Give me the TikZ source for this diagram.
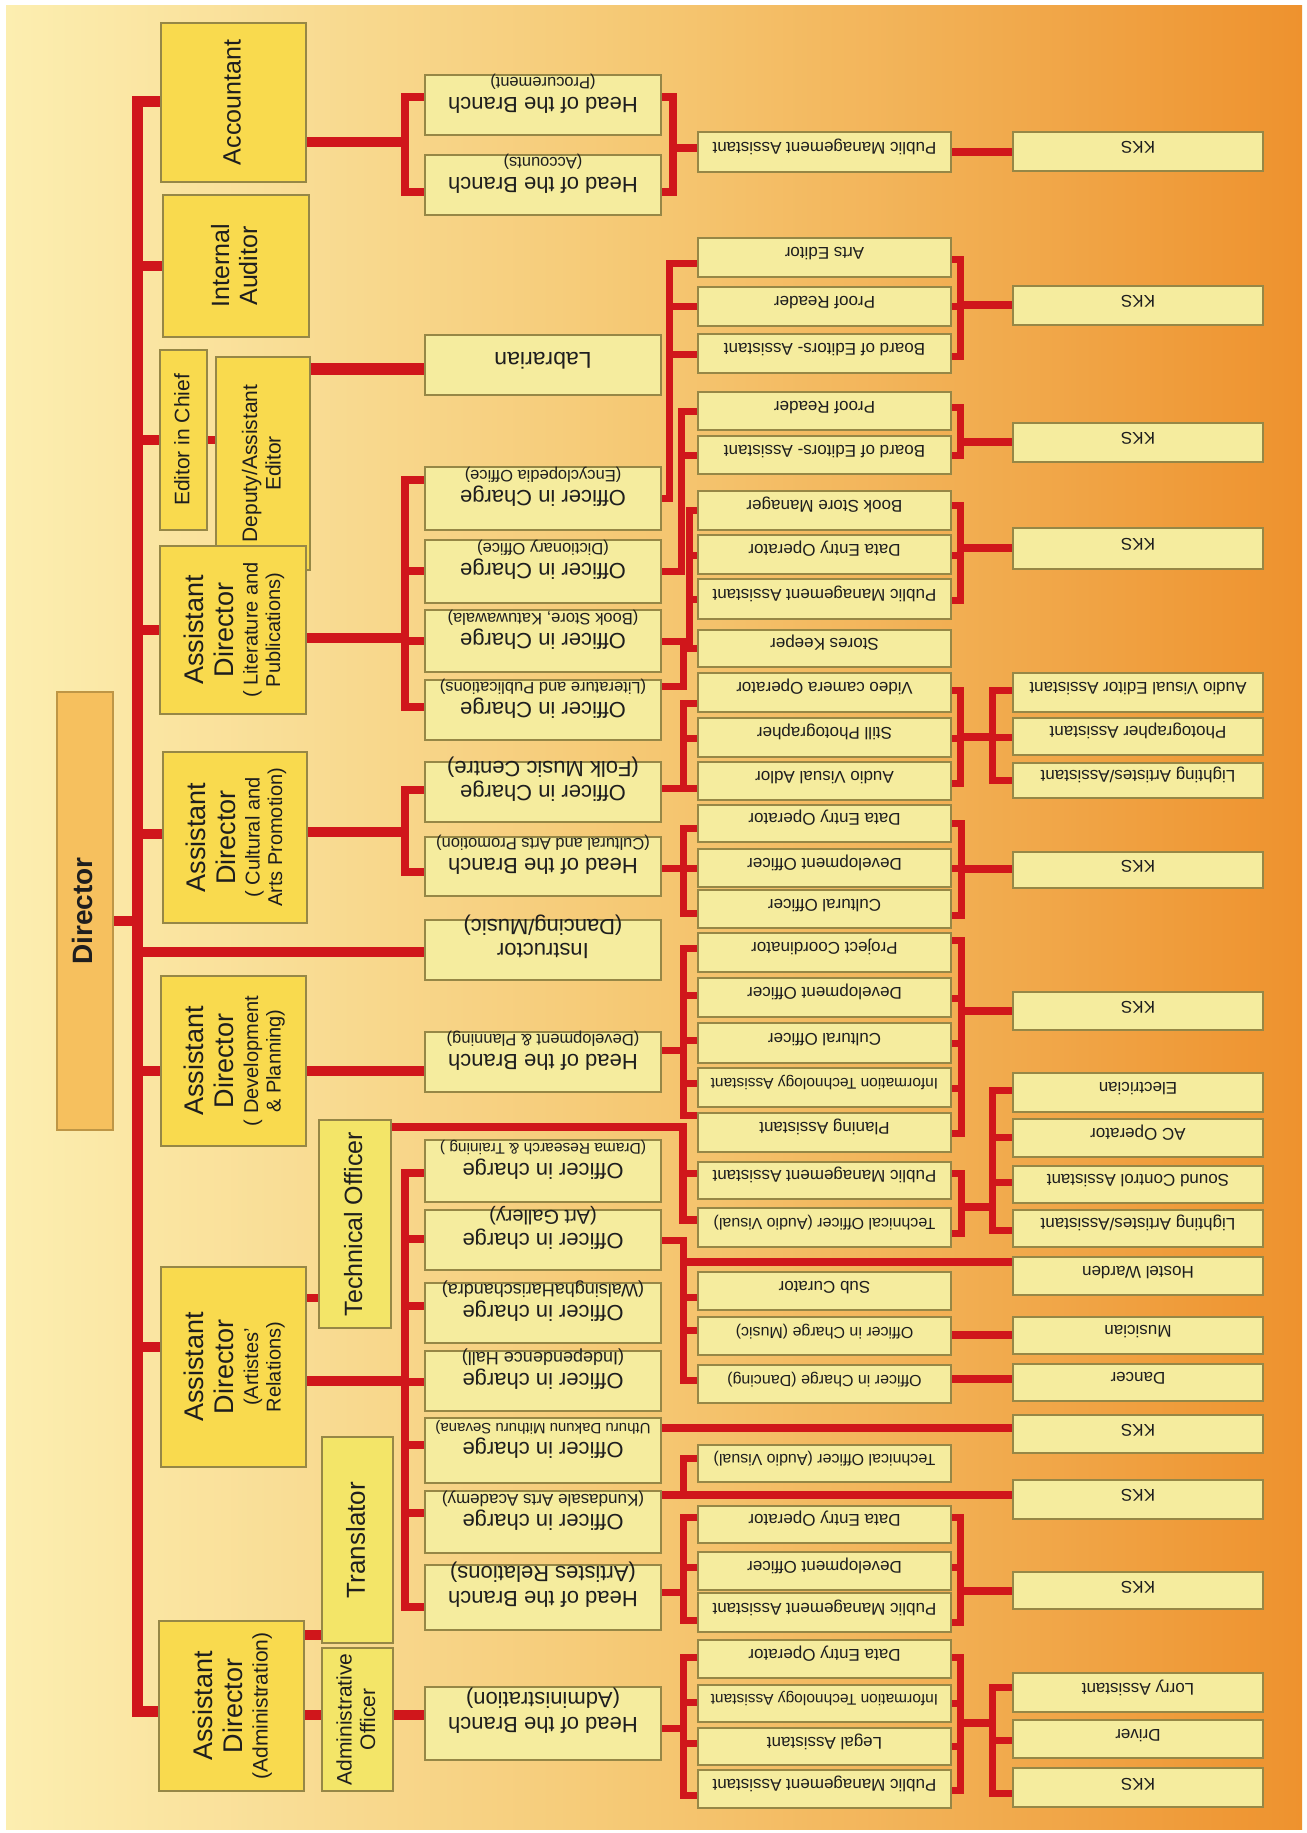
\documentclass[tikz,border=0pt]{standalone}
\usepackage{fontspec}
\setmainfont{Liberation Sans}
\usepackage{graphicx}
\usetikzlibrary{fit}
\definecolor{goldc}{RGB}{249,218,78}
\definecolor{lemonc}{RGB}{243,229,104}
\definecolor{palec}{RGB}{245,236,158}
\definecolor{dirc}{RGB}{246,192,94}
\definecolor{dirbord}{RGB}{190,150,70}
\definecolor{bordc}{RGB}{150,135,70}
\definecolor{redl}{RGB}{208,22,27}
\definecolor{bgL}{RGB}{252,238,176}
\definecolor{bgM}{RGB}{245,199,114}
\definecolor{bgR}{RGB}{238,146,46}
\definecolor{txtc}{RGB}{30,30,30}
\renewcommand\arraystretch{0}
\newcommand\tline[2]{{\fontsize{#1pt}{#1pt}\selectfont\rule[-.28em]{0pt}{1.12em}#2}}
\newcommand\symbox[1]{\raisebox{\dimexpr(\depth-\height)/2\relax}{#1}}
\newcommand\txtdn[1]{\symbox{\rotatebox[origin=c]{180}{\begin{tabular}{@{}c@{}}#1\end{tabular}}}}
\newcommand\boxnode[5]{\node[#1,fit={(#3) (#4)}] (#2) {#5};}
\newcommand\upnode[5]{\node[#1,fit={(#3) (#4)}] (#2) {};
  \node[rotate=90,inner sep=0pt,text=txtc] (#2-t) at (#2.center) {\begin{tabular}{@{}c@{}}#5\end{tabular}};}
\pgfdeclarelayer{bgl}
\pgfdeclarelayer{conn}
\pgfsetlayers{bgl,conn,main}
\tikzset{
  mainbox/.style={draw=bordc,fill=goldc,line width=1.2pt,inner sep=0pt,text=txtc},
  secbox/.style={mainbox,fill=lemonc},
  palebox/.style={mainbox,fill=palec},
  dirbox/.style={mainbox,fill=dirc,draw=dirbord},
  trunk/.style={draw=redl,line width=11pt},
  lvA/.style={draw=redl,line width=10pt},
  lvB/.style={draw=redl,line width=8pt},
  lvC/.style={draw=redl,line width=7pt}
}
\begin{document}
\begin{tikzpicture}[x=1pt,y=-1pt]
\useasboundingbox (0,0) rectangle (1306,1833);
\begin{pgfonlayer}{bgl}
\fill[white] (0,0) rectangle (1306,1833);
\shade[left color=bgL,right color=bgR,middle color=bgM] (6,6) rectangle (1302,1829);
\end{pgfonlayer}

% ---------- level 0/1 ----------
\upnode{dirbox}{director}{57,692}{113,1130}{\tline{28}{\bfseries Director}}
\upnode{mainbox}{acct}{161,23}{306,182}{\tline{25}{Accountant}}
\upnode{mainbox}{audit}{163,195}{309,337}{\tline{25}{Internal}\\\tline{25}{Auditor}}
\upnode{mainbox}{eic}{160,350}{207,530}{\tline{21}{Editor in Chief}}
\upnode{mainbox}{dep}{216,357}{310,570}{\tline{21}{Deputy/Assistant}\\\tline{21}{Editor}}
\upnode{mainbox}{adlit}{160,546}{306,714}{\tline{27}{Assistant}\\\tline{27}{Director}\\\tline{20}{( Literature and}\\\tline{20}{Publications)}}
\upnode{mainbox}{adcul}{163,752}{307,923}{\tline{27}{Assistant}\\\tline{27}{Director}\\\tline{20}{( Cultural and}\\\tline{20}{Arts Promotion)}}
\upnode{mainbox}{addev}{161,976}{306,1146}{\tline{27}{Assistant}\\\tline{27}{Director}\\\tline{20}{( Development}\\\tline{20}{\& Planning)}}
\upnode{mainbox}{adart}{161,1267}{306,1467}{\tline{27}{Assistant}\\\tline{27}{Director}\\\tline{20}{(Artistes'}\\\tline{20}{Relations)}}
\upnode{mainbox}{adadm}{159,1621}{304,1791}{\tline{27}{Assistant}\\\tline{27}{Director}\\\tline{21}{(Administration)}}
\upnode{secbox}{techo}{319,1120}{391,1328}{\tline{25}{Technical Officer}}
\upnode{secbox}{transl}{322,1437}{393,1643}{\tline{26}{Translator}}
\upnode{secbox}{admoff}{322,1648}{393,1791}{\tline{21}{Administrative}\\\tline{21}{Officer}}

% ---------- column 2 ----------
\boxnode{palebox}{hobproc}{425,75}{661,135}{\txtdn{\tline{22}{Head of the Branch}\\\tline{16.5}{(Procurement)}}}
\boxnode{palebox}{hobacc}{425,155}{661,215}{\txtdn{\tline{22}{Head of the Branch}\\\tline{16.5}{(Accounts)}}}
\boxnode{palebox}{labr}{425,335}{661,395}{\txtdn{\tline{23}{Labrarian}}}
\boxnode{palebox}{oicenc}{425,467}{661,530}{\txtdn{\tline{22}{Officer in Charge}\\\tline{16.5}{(Encyclopedia Office)}}}
\boxnode{palebox}{oicdic}{425,540}{661,603}{\txtdn{\tline{22}{Officer in Charge}\\\tline{16.5}{(Dictionary Office)}}}
\boxnode{palebox}{oicbook}{425,610}{661,672}{\txtdn{\tline{22}{Officer in Charge}\\\tline{16.5}{(Book Store, Katuwawala)}}}
\boxnode{palebox}{oiclit}{425,680}{661,740}{\txtdn{\tline{22}{Officer in Charge}\\\tline{16.5}{(Literature and Publications)}}}
\boxnode{palebox}{oicfolk}{425,762}{661,822}{\txtdn{\tline{22}{Officer in Charge}\\\tline{22}{(Folk Music Centre)}}}
\boxnode{palebox}{hobcul}{425,837}{661,896}{\txtdn{\tline{22}{Head of the Branch}\\\tline{16.5}{(Cultural and Arts Promotion)}}}
\boxnode{palebox}{instr}{425,920}{661,980}{\txtdn{\tline{22}{Instructor}\\\tline{22}{(Dancing/Music)}}}
\boxnode{palebox}{hobdev}{425,1032}{661,1092}{\txtdn{\tline{22}{Head of the Branch}\\\tline{16.5}{(Development \& Planning)}}}
\boxnode{palebox}{oicdrama}{425,1140}{661,1202}{\txtdn{\tline{22}{Officer in charge}\\\tline{15.5}{(Drama Research \& Training )}}}
\boxnode{palebox}{oicart}{425,1210}{661,1270}{\txtdn{\tline{22}{Officer in charge}\\\tline{20}{(Art Gallery)}}}
\boxnode{palebox}{oicwal}{425,1283}{661,1343}{\txtdn{\tline{22}{Officer in charge}\\\tline{18}{(WalsinghaHarischandra)}}}
\boxnode{palebox}{oicind}{425,1351}{661,1411}{\txtdn{\tline{22}{Officer in charge}\\\tline{18}{(Independence Hall)}}}
\boxnode{palebox}{oicuth}{425,1418}{661,1483}{\txtdn{\tline{22}{Officer in charge}\\\tline{15}{Uthuru Dakunu Mithuru Sevana)}}}
\boxnode{palebox}{oickun}{425,1491}{661,1553}{\txtdn{\tline{22}{Officer in charge}\\\tline{17}{(Kundasale Arts Academy)}}}
\boxnode{palebox}{hobart}{425,1565}{661,1630}{\txtdn{\tline{22}{Head of the Branch}\\\tline{22}{(Artistes Relations)}}}
\boxnode{palebox}{hobadm}{425,1687}{661,1760}{\txtdn{\tline{22}{Head of the Branch}\\\tline{22}{(Administration)}}}

% ---------- column 3 ----------
\boxnode{palebox}{pmaA}{698,132}{951,172}{\txtdn{\tline{17}{Public Management Assistant}}}
\boxnode{palebox}{artsed}{698,238}{951,277}{\txtdn{\tline{17}{Arts Editor}}}
\boxnode{palebox}{proofA}{698,287}{951,326}{\txtdn{\tline{17}{Proof Reader}}}
\boxnode{palebox}{boeA}{698,334}{951,373}{\txtdn{\tline{17}{Board of Editors- Assistant}}}
\boxnode{palebox}{proofB}{698,392}{951,430}{\txtdn{\tline{17}{Proof Reader}}}
\boxnode{palebox}{boeB}{698,436}{951,474}{\txtdn{\tline{17}{Board of Editors- Assistant}}}
\boxnode{palebox}{bsm}{698,491}{951,530}{\txtdn{\tline{17}{Book Store Manager}}}
\boxnode{palebox}{deoA}{698,535}{951,574}{\txtdn{\tline{17}{Data Entry Operator}}}
\boxnode{palebox}{pmaB}{698,579}{951,619}{\txtdn{\tline{17}{Public Management Assistant}}}
\boxnode{palebox}{stores}{698,630}{951,667}{\txtdn{\tline{17}{Stores Keeper}}}
\boxnode{palebox}{video}{698,673}{951,712}{\txtdn{\tline{17}{Video camera Operator}}}
\boxnode{palebox}{still}{698,718}{951,757}{\txtdn{\tline{17}{Still Photographer}}}
\boxnode{palebox}{avadlor}{698,762}{951,800}{\txtdn{\tline{17}{Audio Visual Adlor}}}
\boxnode{palebox}{deoB}{698,805}{951,842}{\txtdn{\tline{17}{Data Entry Operator}}}
\boxnode{palebox}{devoA}{698,849}{951,887}{\txtdn{\tline{17}{Development Officer}}}
\boxnode{palebox}{culoA}{698,890}{951,928}{\txtdn{\tline{17}{Cultural Officer}}}
\boxnode{palebox}{projc}{698,933}{951,972}{\txtdn{\tline{17}{Project Coordinator}}}
\boxnode{palebox}{devoB}{698,978}{951,1017}{\txtdn{\tline{17}{Development Officer}}}
\boxnode{palebox}{culoB}{698,1023}{951,1063}{\txtdn{\tline{17}{Cultural Officer}}}
\boxnode{palebox}{itaA}{698,1068}{951,1107}{\txtdn{\tline{15.5}{Information Technology Assistant}}}
\boxnode{palebox}{plan}{698,1113}{951,1152}{\txtdn{\tline{17}{Planing Assistant}}}
\boxnode{palebox}{pmaC}{698,1162}{951,1199}{\txtdn{\tline{17}{Public Management Assistant}}}
\boxnode{palebox}{toavA}{698,1208}{951,1247}{\txtdn{\tline{16}{Technical Officer (Audio Visual)}}}
\boxnode{palebox}{subc}{698,1272}{951,1310}{\txtdn{\tline{17}{Sub Curator}}}
\boxnode{palebox}{oicmus}{698,1317}{951,1355}{\txtdn{\tline{16}{Officer in Charge (Music)}}}
\boxnode{palebox}{oicdan}{698,1365}{951,1403}{\txtdn{\tline{16}{Officer in Charge (Dancing)}}}
\boxnode{palebox}{toavB}{698,1445}{951,1482}{\txtdn{\tline{16}{Technical Officer (Audio Visual)}}}
\boxnode{palebox}{deoC}{698,1506}{951,1543}{\txtdn{\tline{17}{Data Entry Operator}}}
\boxnode{palebox}{devoC}{698,1552}{951,1590}{\txtdn{\tline{17}{Development Officer}}}
\boxnode{palebox}{pmaD}{698,1593}{951,1632}{\txtdn{\tline{17}{Public Management Assistant}}}
\boxnode{palebox}{deoD}{698,1640}{951,1678}{\txtdn{\tline{17}{Data Entry Operator}}}
\boxnode{palebox}{itaB}{698,1685}{951,1722}{\txtdn{\tline{15.5}{Information Technology Assistant}}}
\boxnode{palebox}{legal}{698,1728}{951,1765}{\txtdn{\tline{17}{Legal Assistant}}}
\boxnode{palebox}{pmaE}{698,1770}{951,1808}{\txtdn{\tline{17}{Public Management Assistant}}}

% ---------- column 4 ----------
\boxnode{palebox}{kksA}{1013,132}{1263,171}{\txtdn{\tline{17}{KKS}}}
\boxnode{palebox}{kksB}{1013,286}{1263,325}{\txtdn{\tline{17}{KKS}}}
\boxnode{palebox}{kksC}{1013,423}{1263,462}{\txtdn{\tline{17}{KKS}}}
\boxnode{palebox}{kksD}{1013,528}{1263,569}{\txtdn{\tline{17}{KKS}}}
\boxnode{palebox}{aveda}{1013,673}{1263,712}{\txtdn{\tline{17}{Audio Visual Editor Assistant}}}
\boxnode{palebox}{photoa}{1013,718}{1263,755}{\txtdn{\tline{17}{Photographer Assistant}}}
\boxnode{palebox}{lightA}{1013,763}{1263,798}{\txtdn{\tline{17}{Lighting Artistes/Assistant}}}
\boxnode{palebox}{kksE}{1013,852}{1263,888}{\txtdn{\tline{17}{KKS}}}
\boxnode{palebox}{kksF}{1013,992}{1263,1030}{\txtdn{\tline{17}{KKS}}}
\boxnode{palebox}{elec}{1013,1073}{1263,1112}{\txtdn{\tline{17}{Electrician}}}
\boxnode{palebox}{acop}{1013,1119}{1263,1157}{\txtdn{\tline{17}{AC Operator}}}
\boxnode{palebox}{sound}{1013,1166}{1263,1203}{\txtdn{\tline{17}{Sound Control Assistant}}}
\boxnode{palebox}{lightB}{1013,1210}{1263,1247}{\txtdn{\tline{17}{Lighting Artistes/Assistant}}}
\boxnode{palebox}{hostel}{1013,1257}{1263,1295}{\txtdn{\tline{17}{Hostel Warden}}}
\boxnode{palebox}{musician}{1013,1317}{1263,1354}{\txtdn{\tline{17}{Musician}}}
\boxnode{palebox}{dancer}{1013,1364}{1263,1401}{\txtdn{\tline{17}{Dancer}}}
\boxnode{palebox}{kksG}{1013,1415}{1263,1453}{\txtdn{\tline{17}{KKS}}}
\boxnode{palebox}{kksH}{1013,1480}{1263,1519}{\txtdn{\tline{17}{KKS}}}
\boxnode{palebox}{kksI}{1013,1572}{1263,1609}{\txtdn{\tline{17}{KKS}}}
\boxnode{palebox}{lorry}{1013,1673}{1263,1712}{\txtdn{\tline{17}{Lorry Assistant}}}
\boxnode{palebox}{driver}{1013,1720}{1263,1758}{\txtdn{\tline{17}{Driver}}}
\boxnode{palebox}{kksJ}{1013,1768}{1263,1807}{\txtdn{\tline{17}{KKS}}}

\coordinate (ttop) at (137.5,102);
\coordinate (tbot) at (137.5,1711);

\begin{pgfonlayer}{conn}
% trunk
\draw[trunk] (acct.west |- ttop) -- (ttop) -- (tbot) -- (adadm.west |- tbot);
\draw[lvA] (director.east |- 0,921) -- (ttop |- 0,921);
\draw[lvA] (ttop |- 0,266) -- (audit.west |- 0,266);
\draw[lvA] (ttop |- 0,440) -- (eic.west |- 0,440);
\draw[lvB] (eic.east |- 0,440) -- (dep.west |- 0,440);
\draw[lvA] (ttop |- 0,630) -- (adlit.west |- 0,630);
\draw[lvA] (ttop |- 0,834) -- (adcul.west |- 0,834);
\draw[lvA] (ttop |- 0,952) -- (instr.west |- 0,952);
\draw[lvA] (ttop |- 0,1071) -- (addev.west |- 0,1071);
\draw[lvA] (ttop |- 0,1347) -- (adart.west |- 0,1347);
% level 1 -> column 2
\draw[line width=12pt,draw=redl] (dep.east |- 0,369) -- (labr.west |- 0,369);
\draw[lvA] (acct.east |- 0,142) -- (405,142);
\draw[lvB] (hobproc.west |- 0,97) -| (405,192) -- (hobacc.west |- 0,192);
\draw[lvA] (adlit.east |- 0,638) -- (405,638);
\draw[lvB] (oicenc.west |- 0,480) -| (405,707) -- (oiclit.west |- 0,707);
\draw[lvB] (405,571) -- (oicdic.west |- 0,571);
\draw[lvB] (405,641) -- (oicbook.west |- 0,641);
\draw[lvA] (adcul.east |- 0,832) -- (405,832);
\draw[lvB] (oicfolk.west |- 0,790) -| (405,872) -- (hobcul.west |- 0,872);
\draw[lvA] (addev.east |- 0,1071) -- (hobdev.west |- 0,1071);
\draw[lvA] (adart.east |- 0,1381) -- (405,1381);
\draw[lvB] (oicdrama.west |- 0,1173) -| (405,1607) -- (hobart.west |- 0,1607);
\foreach \n/\y in {oicart/1239,oicwal/1306,oicind/1382,oicuth/1445,oickun/1513}
  \draw[lvB] (405,\y) -- (\n.west |- 0,\y);
\draw[lvB] (adart.east |- 0,1298) -- (techo.west |- 0,1298);
\draw[lvA] (adadm.east |- 0,1635) -- (transl.west |- 0,1635);
\draw[lvA] (adadm.east |- 0,1715) -- (admoff.west |- 0,1715);
\draw[lvA] (admoff.east |- 0,1715) -- (hobadm.west |- 0,1715);
\draw[lvB] (techo.east |- 0,1127) -| (683,1220) -- (toavA.west |- 0,1220);
\draw[lvC] (683,1173) -- (pmaC.west |- 0,1173);
% column 2 -> column 3
\draw[lvB] (hobproc.east |- 0,97) -| (673,192) -- (hobacc.east |- 0,192);
\draw[lvB] (673,148) -- (pmaA.west |- 0,148);
\draw[lvC] (artsed.west |- 0,263) -| (669,498) -- (oicenc.east |- 0,498);
\draw[lvC] (669,306) -- (proofA.west |- 0,306);
\draw[lvC] (669,354) -- (boeA.west |- 0,354);
\draw[lvC] (proofB.west |- 0,411) -| (681,571) -- (oicdic.east |- 0,571);
\draw[lvC] (681,455) -- (boeB.west |- 0,455);
\draw[lvC] (bsm.west |- 0,510) -| (689,641) -- (oicbook.east |- 0,641);
\draw[lvC] (689,555) -- (deoA.west |- 0,555);
\draw[lvC] (689,599) -- (pmaB.west |- 0,599);
\draw[lvC] (oiclit.east |- 0,686) -| (683,648) -- (stores.west |- 0,648);
\draw[lvC] (video.west |- 0,703) -| (683,788) -- (avadlor.west |- 0,788);
\draw[lvC] (683,738) -- (still.west |- 0,738);
\draw[lvC] (oicfolk.east |- 0,788) -- (683,788);
\draw[lvC] (deoB.west |- 0,828) -| (683,913) -- (culoA.west |- 0,913);
\draw[lvC] (683,868) -- (devoA.west |- 0,868);
\draw[lvC] (hobcul.east |- 0,868) -- (683,868);
\draw[lvC] (projc.west |- 0,948) -| (683,1115) -- (plan.west |- 0,1115);
\foreach \n/\y in {devoB/995,culoB/1040,itaA/1083}
  \draw[lvC] (683,\y) -- (\n.west |- 0,\y);
\draw[lvC] (hobdev.east |- 0,1050) -- (683,1050);
\draw[lvC] (oicart.east |- 0,1240) -| (683,1380) -- (oicdan.west |- 0,1380);
\draw[lvC] (683,1297) -- (subc.west |- 0,1297);
\draw[lvC] (683,1330) -- (oicmus.west |- 0,1330);
\draw[lvB] (683,1262) -- (hostel.west |- 0,1262);
\draw[lvB] (oicuth.east |- 0,1428) -- (kksG.west |- 0,1428);
\draw[lvB] (oickun.east |- 0,1495) -- (kksH.west |- 0,1495);
\draw[lvC] (683,1495) -- (683,1458) -- (toavB.west |- 0,1458);
\draw[lvC] (deoC.west |- 0,1517) -| (683,1620) -- (pmaD.west |- 0,1620);
\draw[lvC] (683,1567) -- (devoC.west |- 0,1567);
\draw[lvC] (hobart.east |- 0,1592) -- (683,1592);
\draw[lvC] (deoD.west |- 0,1657) -| (683,1795) -- (pmaE.west |- 0,1795);
\draw[lvC] (683,1702) -- (itaB.west |- 0,1702);
\draw[lvC] (683,1743) -- (legal.west |- 0,1743);
\draw[lvC] (hobadm.east |- 0,1728) -- (683,1728);
% column 3 -> column 4
\draw[lvB] (pmaA.east |- 0,152) -- (kksA.west |- 0,152);
\draw[lvC] (artsed.east |- 0,259) -| (960,356) -- (boeA.east |- 0,356);
\draw[lvC] (960,306) -- (proofA.east |- 0,306);
\draw[lvB] (960,305) -- (kksB.west |- 0,305);
\draw[lvC] (proofB.east |- 0,407) -| (960,455) -- (boeB.east |- 0,455);
\draw[lvB] (960,442) -- (kksC.west |- 0,442);
\draw[lvC] (bsm.east |- 0,505) -| (960,600) -- (pmaB.east |- 0,600);
\draw[lvC] (960,555) -- (deoA.east |- 0,555);
\draw[lvB] (960,548) -- (kksD.west |- 0,548);
\draw[lvC] (video.east |- 0,690) -| (960,783) -- (avadlor.east |- 0,783);
\draw[lvC] (960,738) -- (still.east |- 0,738);
\draw[lvB] (960,737) -- (992,737);
\draw[lvC] (aveda.west |- 0,690) -| (992,780) -- (lightA.west |- 0,780);
\draw[lvC] (992,737) -- (photoa.west |- 0,737);
\draw[lvC] (deoB.east |- 0,823) -| (961,915) -- (culoA.east |- 0,915);
\draw[lvC] (961,868) -- (devoA.east |- 0,868);
\draw[lvB] (961,869) -- (kksE.west |- 0,869);
\draw[lvC] (projc.east |- 0,940) -| (961,1133) -- (plan.east |- 0,1133);
\foreach \n/\y in {devoB/998,culoB/1043,itaA/1088}
  \draw[lvC] (961,\y) -- (\n.east |- 0,\y);
\draw[lvB] (961,1011) -- (kksF.west |- 0,1011);
\draw[lvC] (pmaC.east |- 0,1173) -| (961,1233) -- (toavA.east |- 0,1233);
\draw[lvB] (961,1207) -- (992,1207);
\draw[lvC] (elec.west |- 0,1090) -| (992,1230) -- (lightB.west |- 0,1230);
\draw[lvC] (992,1137) -- (acop.west |- 0,1137);
\draw[lvC] (992,1182) -- (sound.west |- 0,1182);
\draw[lvB] (oicmus.east |- 0,1335) -- (musician.west |- 0,1335);
\draw[lvB] (oicdan.east |- 0,1379) -- (dancer.west |- 0,1379);
\draw[lvC] (deoC.east |- 0,1517) -| (960,1622) -- (pmaD.east |- 0,1622);
\draw[lvC] (960,1567) -- (devoC.east |- 0,1567);
\draw[lvB] (960,1591) -- (kksI.west |- 0,1591);
\draw[lvC] (deoD.east |- 0,1657) -| (960,1790) -- (pmaE.east |- 0,1790);
\draw[lvC] (960,1703) -- (itaB.east |- 0,1703);
\draw[lvC] (960,1746) -- (legal.east |- 0,1746);
\draw[lvB] (960,1723) -- (992,1723);
\draw[lvC] (lorry.west |- 0,1687) -| (992,1793) -- (kksJ.west |- 0,1793);
\draw[lvC] (992,1740) -- (driver.west |- 0,1740);
\end{pgfonlayer}
\end{tikzpicture}
\end{document}
